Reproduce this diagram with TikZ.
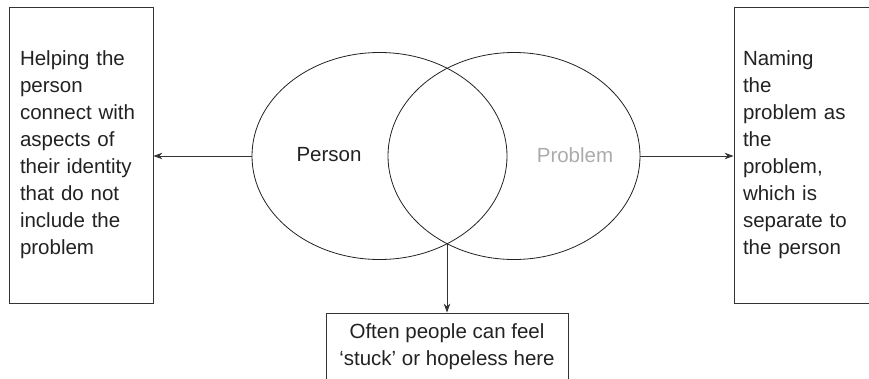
\documentclass[tikz,border=0pt]{standalone}
\usepackage{fontspec}
\setmainfont{Liberation Sans}
\usetikzlibrary{shapes.geometric,arrows.meta}
\definecolor{ink}{HTML}{222222}
\definecolor{lineink}{HTML}{333333}
\definecolor{faint}{HTML}{ABABAB}
\begin{document}
\begin{tikzpicture}[x=1pt,y=-1pt,
  txt/.style={font=\fontsize{20.5}{27}\selectfont, text=ink},
  sidebox/.style={draw=lineink, line width=0.8pt, txt, align=left, inner ysep=0pt, anchor=center},
  ring/.style={draw=ink, line width=0.8pt, ellipse, inner sep=0pt, minimum height=207pt},
  conn/.style={draw=lineink, line width=0.8pt, -{Stealth[length=9pt,width=6.5pt]}}
]
\useasboundingbox (0,0) rectangle (869,378);
\node[ring, minimum width=255pt] (person) at (379.5,156) {};
\node[ring, minimum width=252pt] (problem) at (514,156) {};
\node[txt] (personlbl) at (329,155) {Person};
\node[txt, text=faint] (problemlbl) at (575,155) {Problem};
\node[sidebox, minimum width=144pt, minimum height=296pt, inner xsep=11pt, text width=122pt] (leftbox) at (81,155)
  {Helping the\\person\\connect with\\aspects of\\their identity\\that do not\\include the\\problem};
\node[sidebox, minimum width=146pt, minimum height=296pt, inner xsep=9pt, text width=128pt] (rightbox) at (807,155)
  {Naming\\the\\problem as\\the\\problem,\\which is\\separate to\\the person};
\node[draw=lineink, line width=0.8pt, txt, align=center, minimum width=242pt, minimum height=68pt, inner sep=0pt] (bottombox) at (447,347)
  {Often people can feel\\‘stuck’ or hopeless here};
\coordinate (isect) at (447,243.8);
\draw[conn] (person.west) -- (person.west -| leftbox.east);
\draw[conn] (problem.east) -- (problem.east -| rightbox.west);
\draw[conn] (isect) -- (isect |- bottombox.north);
\end{tikzpicture}
\end{document}
